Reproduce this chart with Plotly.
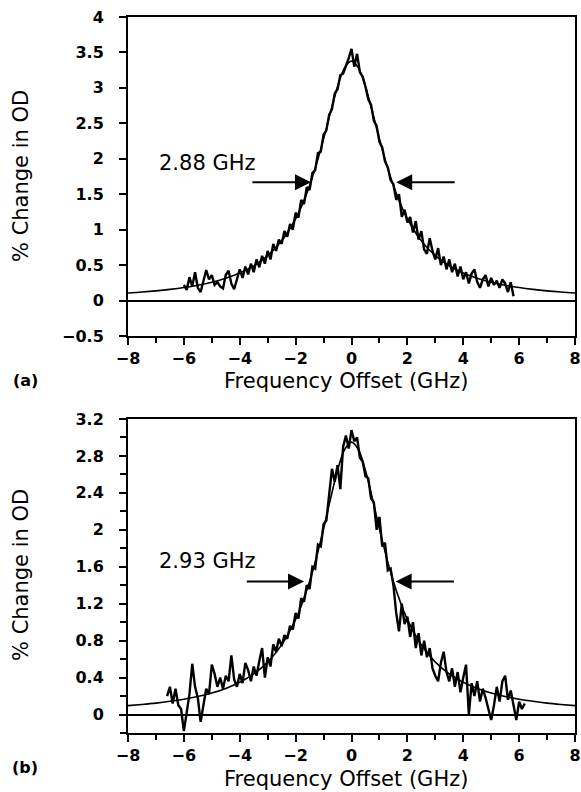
import numpy as np
import plotly.graph_objects as go

# ---------------- data ----------------
# Panel (a): Lorentzian fit
fit_a_x = [-8, -7.5, -7, -6.5, -6, -5.5, -5, -4.5, -4, -3.5, -3, -2.5, -2, -1.75, -1.5, -1.25, -1, -0.75, -0.5, -0.25, 0,
           0.25, 0.5, 0.75, 1, 1.25, 1.5, 1.75, 2, 2.5, 3, 3.5, 4, 4.5, 5, 5.5, 6, 6.5, 7, 7.5, 8]
fit_a_y = [0.106, 0.120, 0.137, 0.158, 0.184, 0.217, 0.259, 0.314, 0.388, 0.489, 0.633, 0.842, 1.154, 1.365, 1.621, 1.928,
           2.280, 2.659, 3.016, 3.281, 3.380,
           3.281, 3.016, 2.659, 2.280, 1.928, 1.621, 1.365, 1.154, 0.842, 0.633, 0.489, 0.388, 0.314, 0.259, 0.217,
           0.184, 0.158, 0.137, 0.120, 0.106]

# Panel (a): measured data, -6.0 .. 5.8 GHz every 0.1 GHz
data_a_start, data_a_step = -6.0, 0.1
data_a_y = [0.22, 0.15, 0.33, 0.20, 0.40, 0.18, 0.12, 0.28, 0.43, 0.30,
            0.36, 0.22, 0.26, 0.20, 0.17, 0.36, 0.42, 0.24, 0.16, 0.30,
            0.44, 0.32, 0.48, 0.37, 0.52, 0.40, 0.58, 0.47, 0.63, 0.52,
            0.70, 0.58, 0.80, 0.70, 0.86, 0.80, 0.98, 0.90, 1.08, 1.00,
            1.24, 1.17, 1.42, 1.36, 1.60, 1.56, 1.80, 1.84, 2.08, 2.10,
            2.34, 2.40, 2.62, 2.70, 2.92, 2.98, 3.18, 3.20, 3.30, 3.42,
            3.55, 3.30, 3.48, 3.22, 3.16, 3.02, 2.84, 2.76, 2.54, 2.46,
            2.24, 2.16, 1.96, 1.88, 1.70, 1.64, 1.42, 1.50, 1.18, 1.28,
            1.10, 1.18, 0.96, 1.12, 0.86, 0.98, 0.72, 0.66, 0.88, 0.70,
            0.58, 0.74, 0.50, 0.62, 0.44, 0.58, 0.40, 0.52, 0.34, 0.48,
            0.30, 0.40, 0.24, 0.38, 0.44, 0.26, 0.18, 0.30, 0.36, 0.20,
            0.32, 0.22, 0.28, 0.18, 0.30, 0.24, 0.12, 0.26, 0.06]

# Panel (b): Lorentzian fit
fit_b_x = fit_a_x
fit_b_y = [0.096, 0.109, 0.124, 0.143, 0.166, 0.195, 0.233, 0.283, 0.349, 0.440, 0.568, 0.754, 1.030, 1.216, 1.440, 1.707,
           2.012, 2.337, 2.642, 2.867, 2.950,
           2.867, 2.642, 2.337, 2.012, 1.707, 1.440, 1.216, 1.030, 0.754, 0.568, 0.440, 0.349, 0.283, 0.233, 0.195,
           0.166, 0.143, 0.124, 0.109, 0.096]

# Panel (b): measured data, -6.6 .. 6.2 GHz every 0.1 GHz
data_b_start, data_b_step = -6.6, 0.1
data_b_y = [0.20, 0.30, 0.12, 0.28, 0.10, 0.06, -0.18, 0.02, 0.22, 0.55,
            0.30, 0.18, -0.08, 0.10, 0.28, 0.22, 0.54, 0.44, 0.30, 0.40,
            0.28, 0.42, 0.36, 0.64, 0.38, 0.30, 0.44, 0.34, 0.56, 0.48,
            0.36, 0.52, 0.42, 0.58, 0.72, 0.40, 0.62, 0.52, 0.76, 0.68,
            0.82, 0.74, 0.86, 0.82, 0.96, 0.92, 1.10, 1.04, 1.26, 1.22,
            1.40, 1.36, 1.60, 1.58, 1.84, 1.82, 2.06, 2.10, 2.40, 2.66,
            2.52, 2.70, 2.44, 2.90, 3.02, 2.88, 3.08, 2.96, 3.00, 2.78,
            2.74, 2.58, 2.56, 2.34, 2.30, 2.00, 2.14, 1.82, 1.86, 1.56,
            1.58, 1.40, 1.10, 0.90, 1.20, 0.98, 1.06, 0.84, 1.00, 0.72,
            0.88, 0.64, 0.80, 0.62, 0.72, 0.50, 0.42, 0.36, 0.56, 0.68,
            0.46, 0.36, 0.50, 0.30, 0.46, 0.24, 0.40, 0.54, 0.00, 0.34,
            0.20, 0.36, 0.14, 0.28, 0.18, 0.06, -0.06, 0.10, 0.30, 0.14,
            0.36, 0.42, 0.16, 0.26, 0.08, -0.06, 0.14, 0.06, 0.12]

fwhm_labels = ["2.88 GHz", "2.93 GHz"]
# arrow positions (GHz, %): [left tail, left tip, right tip, right tail], height
arrows_a = dict(x=[-3.6, -1.45, 1.6, 3.75], y=1.67)
arrows_b = dict(x=[-3.8, -1.7, 1.58, 3.72], y=1.44)
label_a_pos = (-5.15, 1.94)
label_b_pos = (-5.15, 1.66)

x_label = "Frequency Offset (GHz)"
y_label = "% Change in OD"

data_a_x = np.round(data_a_start + data_a_step * np.arange(len(data_a_y)), 2)
data_b_x = np.round(data_b_start + data_b_step * np.arange(len(data_b_y)), 2)

# ---------------- figure ----------------
W, H = 581, 792
fig = go.Figure()
line_data = dict(color="black", width=2.4)
line_fit = dict(color="black", width=1.6, shape="spline")

fig.add_trace(go.Scatter(x=fit_a_x, y=fit_a_y, mode="lines", line=line_fit, xaxis="x", yaxis="y", hoverinfo="skip"))
fig.add_trace(go.Scatter(x=data_a_x, y=data_a_y, mode="lines", line=line_data, xaxis="x", yaxis="y"))
fig.add_trace(go.Scatter(x=fit_b_x, y=fit_b_y, mode="lines", line=line_fit, xaxis="x2", yaxis="y2", hoverinfo="skip"))
fig.add_trace(go.Scatter(x=data_b_x, y=data_b_y, mode="lines", line=line_data, xaxis="x2", yaxis="y2"))

tickfont = dict(family="DejaVu Sans", size=16, color="black", weight="bold")
xdom = [128 / W, 575 / W]

def xax(anchor):
    return dict(domain=xdom, range=[-8, 8], tick0=-8, dtick=2, ticks="outside", ticklen=7, tickwidth=1.5,
                tickcolor="black", minor=dict(dtick=1, ticks="outside", ticklen=5, tickwidth=1.5, tickcolor="black"),
                showline=True, linewidth=2, linecolor="black", mirror=True, showgrid=False, zeroline=False,
                tickfont=tickfont, anchor=anchor, ticklabelstandoff=0, automargin=False)

def yax(anchor, dom, rng, dtick, minor=None):
    d = dict(domain=dom, range=rng, tick0=0, dtick=dtick, ticks="outside", ticklen=7, tickwidth=1.5,
             tickcolor="black", showline=True, linewidth=2, linecolor="black", mirror=True, showgrid=False,
             zeroline=True, zerolinecolor="black", zerolinewidth=1.5, tickfont=tickfont, anchor=anchor,
             ticklabelstandoff=12, automargin=False)
    if minor:
        d["minor"] = dict(dtick=minor, ticks="outside", ticklen=6, tickwidth=1.5, tickcolor="black")
    return d

fig.update_layout(
    width=W, height=H, margin=dict(l=0, r=0, t=0, b=0, pad=0, autoexpand=False),
    paper_bgcolor="white", plot_bgcolor="white", showlegend=False,
    xaxis=xax("y"),
    yaxis=yax("x", [1 - 336 / H, 1 - 17 / H], [-0.5, 4], 0.5),
    xaxis2=xax("y2"),
    yaxis2=yax("x2", [1 - 733 / H, 1 - 419 / H], [-0.2, 3.2], 0.4, 0.2),
)

title_font = dict(family="DejaVu Sans", size=21, color="black")
ann = []
for ycen_px, xt_px, lab, lab_px in [(176, 381, "(a)", 380), (575, 779, "(b)", 767)]:
    ann.append(dict(x=346 / W, y=1 - xt_px / H, xref="paper", yref="paper", text=x_label, showarrow=False,
                    font=title_font, xanchor="center", yanchor="middle"))
    ann.append(dict(x=21 / W, y=1 - ycen_px / H, xref="paper", yref="paper", text=y_label, showarrow=False,
                    font=title_font, textangle=-90, xanchor="center", yanchor="middle"))
    ann.append(dict(x=25 / W, y=1 - lab_px / H, xref="paper", yref="paper", text=lab, showarrow=False,
                    font=dict(family="DejaVu Sans", size=16, color="black", weight="bold"),
                    xanchor="center", yanchor="middle"))

for (xr, yr, arr, lab, pos) in [("x", "y", arrows_a, fwhm_labels[0], label_a_pos),
                                ("x2", "y2", arrows_b, fwhm_labels[1], label_b_pos)]:
    ann.append(dict(x=pos[0], y=pos[1], xref=xr, yref=yr, text=lab, showarrow=False,
                    font=title_font, xanchor="center", yanchor="middle"))
    ax = arr["x"]
    for tail, tip in [(ax[0], ax[1]), (ax[3], ax[2])]:
        ann.append(dict(x=tip, y=arr["y"], ax=tail, ay=arr["y"], xref=xr, yref=yr, axref=xr, ayref=yr,
                        text="", showarrow=True, arrowhead=2, arrowsize=1.6, arrowwidth=2,
                        arrowcolor="black", standoff=0))
fig.update_layout(annotations=ann)

fig.write_html("out.html")
